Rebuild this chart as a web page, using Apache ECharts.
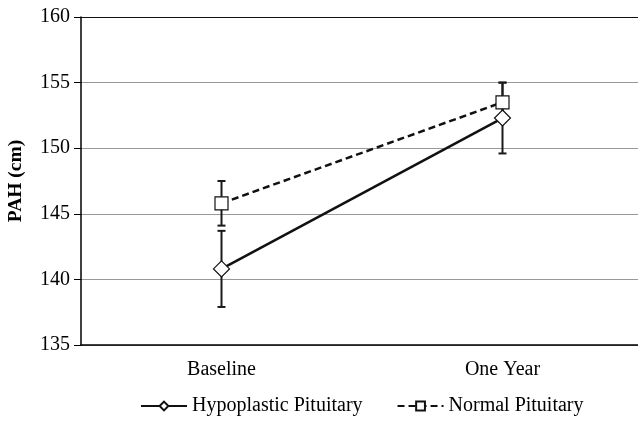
<!DOCTYPE html>
<html><head><meta charset="utf-8">
<script src="https://cdn.jsdelivr.net/npm/echarts@6/dist/echarts.min.js"></script>
<style>html,body{margin:0;padding:0;background:#fff}#c{width:638px;height:423px}</style>
</head><body><div id="c"></div>
<script>
var categories = ['Baseline', 'One Year'];
var hypoMean = [140.8, 152.3];
var hypoLow = [137.9, 149.6];
var hypoHigh = [143.7, 155.0];
var normMean = [145.8, 153.5];
var normLow = [144.1, 152.0];
var normHigh = [147.5, 155.0];
var yTicks = [135, 140, 145, 150, 155, 160];

var chart = echarts.init(document.getElementById('c'));
var font = 'Liberation Serif, Times New Roman, serif';
function errSeries(low, high) {
  return {
    type: 'custom', silent: true, z: 1,
    data: categories.map(function (c, i) { return [i, low[i], high[i]]; }),
    renderItem: function (params, api) {
      var x = api.value(0);
      var lo = api.coord([x, api.value(1)]);
      var hi = api.coord([x, api.value(2)]);
      var w = 4;
      var st = { stroke: '#1a1a1a', lineWidth: 2 };
      return { type: 'group', children: [
        { type: 'line', shape: { x1: lo[0], y1: lo[1], x2: hi[0], y2: hi[1] }, style: st },
        { type: 'line', shape: { x1: lo[0] - w, y1: lo[1], x2: lo[0] + w, y2: lo[1] }, style: st },
        { type: 'line', shape: { x1: hi[0] - w, y1: hi[1], x2: hi[0] + w, y2: hi[1] }, style: st }
      ]};
    }
  };
}
chart.setOption({
  animation: false,
  grid: { left: 81, right: -5, top: 17, bottom: 78, containLabel: false, outerBoundsMode: 'none' },
  xAxis: {
    type: 'category', data: categories, boundaryGap: true,
    axisLine: { lineStyle: { color: '#000', width: 1.5 } },
    axisTick: { alignWithLabel: true, length: 4, lineStyle: { color: '#000' } },
    axisLabel: { color: '#000', fontFamily: font, fontSize: 20, margin: 15 }
  },
  yAxis: {
    type: 'value', min: yTicks[0], max: yTicks[yTicks.length - 1], interval: 5,
    name: 'PAH (cm)', nameLocation: 'middle', nameGap: 55,
    nameTextStyle: { color: '#000', fontFamily: font, fontSize: 19.5, fontWeight: 'bold' },
    axisLine: { show: true, lineStyle: { color: '#000', width: 1.5 } },
    axisTick: { show: true, length: 7, lineStyle: { color: '#000' } },
    axisLabel: { color: '#000', fontFamily: font, fontSize: 20, margin: 11 },
    splitLine: { lineStyle: { color: ['#888', '#999', '#999', '#999', '#999', '#111'], width: 1 } }
  },
  legend: {
    bottom: 2, left: 135, itemGap: 34, itemWidth: 46, itemHeight: 11,
    textStyle: { color: '#000', fontFamily: font, fontSize: 20 },
    data: ['Hypoplastic Pituitary', 'Normal Pituitary']
  },
  series: [
    errSeries(normLow, normHigh),
    errSeries(hypoLow, hypoHigh),
    {
      name: 'Hypoplastic Pituitary', type: 'line', data: hypoMean, z: 3,
      symbol: 'diamond', symbolSize: [16, 16],
      itemStyle: { color: '#fff', borderColor: '#111', borderWidth: 1.2 },
      lineStyle: { color: '#111', width: 2.5, type: 'solid' }
    },
    {
      name: 'Normal Pituitary', type: 'line', data: normMean, z: 3,
      symbol: 'rect', symbolSize: [13, 13],
      itemStyle: { color: '#fff', borderColor: '#111', borderWidth: 1.2 },
      lineStyle: { color: '#111', width: 2.5, type: [7, 4] }
    }
  ]
});
</script></body></html>
